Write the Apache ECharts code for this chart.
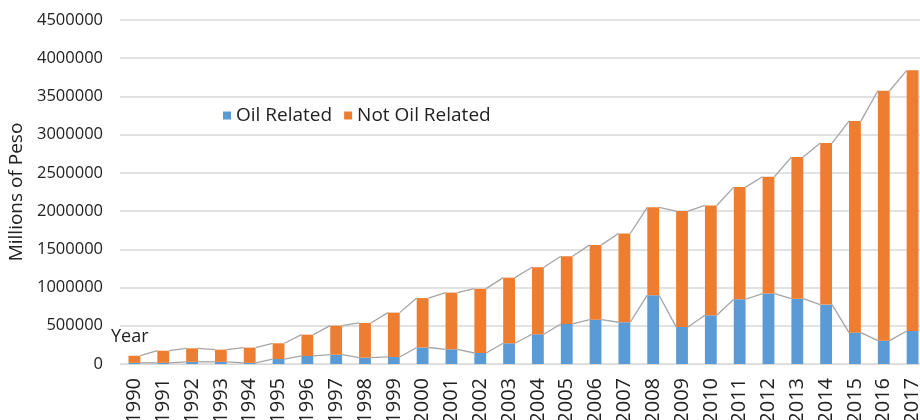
<!DOCTYPE html>
<html><head><meta charset="utf-8">
<script src="https://cdn.jsdelivr.net/npm/echarts@6/dist/echarts.min.js"></script>
<style>html,body{margin:0;padding:0;background:#fff}#c{width:920px;height:420px}</style>
</head><body><div id="c"></div>
<script>
const years = ['1990','1991','1992','1993','1994','1995','1996','1997','1998','1999','2000','2001','2002','2003','2004','2005','2006','2007','2008','2009','2010','2011','2012','2013','2014','2015','2016','2017'];
const oilRelated = [15000,15000,28000,28000,15000,65000,105000,122000,83000,92000,216000,192000,144000,271000,389000,524000,580000,546000,900000,485000,637000,847000,921000,855000,777000,410000,305000,432000];
const notOilRelated = [93000,159000,177000,160000,199000,206000,279000,380000,454000,580000,646000,742000,842000,859000,877000,886000,978000,1161000,1150000,1515000,1437000,1467000,1528000,1852000,2113000,2768000,3270000,3410000];
const yTicks = [0,500000,1000000,1500000,2000000,2500000,3000000,3500000,4000000,4500000];

const FONT = '"Open Sans", sans-serif';
const totals = oilRelated.map((v,i)=>v+notOilRelated[i]);
const BARW = 0.41;
const lineData = [];
for (let i=0;i<years.length-1;i++) lineData.push([i, oilRelated[i], oilRelated[i+1], totals[i], totals[i+1]]);

const chart = echarts.init(document.getElementById('c'), null, {renderer:'canvas'});
chart.setOption({
  animation:false,
  backgroundColor:'#fff',
  textStyle:{fontFamily:FONT},
  grid:{left:120, top:20, width:807, bottom:56, containLabel:false, outerBoundsMode:'none'},
  legend:{
    data:['Oil Related','Not Oil Related'],
    left:218, top:101, itemWidth:8, itemHeight:8, itemGap:12, icon:'rect',
    textStyle:{fontSize:19, color:'#222', fontFamily:FONT}
  },
  graphic:[
    {type:'text', left:111, top:328, style:{text:'Year', font:'18px "Open Sans", sans-serif', fill:'#222'}}
  ],
  xAxis:{
    type:'category', data:years,
    axisLine:{lineStyle:{color:'#d9d9d9', width:1}},
    axisTick:{show:false},
    axisLabel:{rotate:90, fontSize:20, color:'#222', margin:14, fontFamily:FONT}
  },
  yAxis:{
    type:'value', min:yTicks[0], max:yTicks[yTicks.length-1], interval:yTicks[1]-yTicks[0],
    name:'Millions of Peso', nameLocation:'middle', nameGap:91, nameRotate:90,
    nameTextStyle:{fontSize:19, color:'#222', fontFamily:FONT},
    axisLine:{show:false}, axisTick:{show:false},
    axisLabel:{fontSize:16.5, color:'#222', margin:17, fontFamily:FONT, formatter:v=>String(v)},
    splitLine:{lineStyle:{color:'#d9d9d9', width:1.5}}
  },
  series:[
    {name:'Oil Related', type:'bar', stack:'t', data:oilRelated, barWidth:(BARW*100)+'%', itemStyle:{color:'#5b9bd5'}},
    {name:'Not Oil Related', type:'bar', stack:'t', data:notOilRelated, barWidth:(BARW*100)+'%', itemStyle:{color:'#ed7d31'}},
    {type:'custom', data:lineData, z:5, silent:true,
     renderItem:function(params, api){
       const band = api.size([1,0])[0];
       const hw = band*BARW/2;
       const i = api.value(0);
       const a1 = api.coord([i, api.value(1)]);
       const a2 = api.coord([i+1, api.value(2)]);
       const b1 = api.coord([i, api.value(3)]);
       const b2 = api.coord([i+1, api.value(4)]);
       const st = {stroke:'#a5a5a5', lineWidth:1.3, fill:null};
       return {type:'group', children:[
         {type:'line', shape:{x1:a1[0]+hw, y1:a1[1], x2:a2[0]-hw, y2:a2[1]}, style:st},
         {type:'line', shape:{x1:b1[0]+hw, y1:b1[1], x2:b2[0]-hw, y2:b2[1]}, style:st}
       ]};
     }
    }
  ]
});
</script></body></html>
